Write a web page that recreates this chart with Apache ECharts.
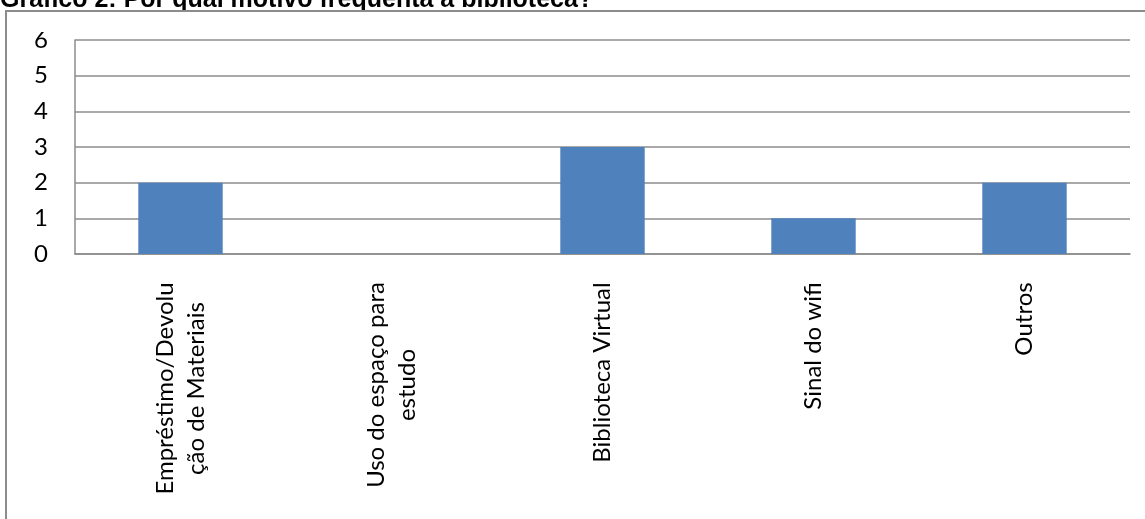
<!DOCTYPE html>
<html>
<head>
<meta charset="utf-8">
<script src="https://cdn.jsdelivr.net/npm/echarts@6/dist/echarts.min.js"></script>
<style>
html,body{margin:0;padding:0;background:#fff;}
#chart{width:1145px;height:519px;}
</style>
</head>
<body>
<div id="chart"></div>
<script>
const titleText = "Gráfico 2: Por qual motivo frequenta a biblioteca?";
const categories = ["Empréstimo/Devolu\nção de Materiais", "Uso do espaço para\nestudo", "Biblioteca Virtual", "Sinal do wifi", "Outros"];
const values = [2, 0, 3, 1, 2];
const yTicks = [0, 1, 2, 3, 4, 5, 6];

const LABEL_FONT = "Lato";
const LABEL_SIZE = 24;
const ctx = document.createElement("canvas").getContext("2d");
ctx.font = LABEL_SIZE + "px " + LABEL_FONT;
const rich = {};
categories.forEach((c, i) => {
  const w = Math.max(...c.split("\n").map(s => ctx.measureText(s).width));
  rich["c" + i] = {width: Math.ceil(w) + 2, align: "center", fontFamily: LABEL_FONT, fontSize: LABEL_SIZE, lineHeight: 31, color: "#000"};
});

const chart = echarts.init(document.getElementById("chart"), null, {renderer: "canvas"});
chart.setOption({
  animation: false,
  backgroundColor: "#fff",
  graphic: [
    {type: "text", x: 0, y: 0, z: 1, silent: true,
     style: {text: titleText, font: "bold 25px 'Liberation Sans', Arial", fill: "#000", verticalAlign: "middle"}},
    {type: "rect", z: 2, silent: true, shape: {x: 5, y: 10, width: 1400, height: 22},
     style: {fill: "#fff", stroke: null}},
    {type: "rect", z: 3, silent: true, shape: {x: 6, y: 11, width: 1400, height: 800},
     style: {fill: null, stroke: "#8c8c8c", lineWidth: 2}}
  ],
  grid: {left: 75, right: 15, top: 40, bottom: 265, containLabel: false},
  xAxis: {
    type: "category",
    data: categories,
    axisLine: {show: true, lineStyle: {color: "#8c8c8c", width: 1.5}},
    axisTick: {show: false},
    axisLabel: {
      interval: 0, rotate: 90, margin: 27,
      formatter: (v, i) => v.split("\n").map(s => "{c" + i + "|" + s + "}").join("\n"),
      rich: rich
    }
  },
  yAxis: {
    type: "value", min: yTicks[0], max: yTicks[yTicks.length - 1], interval: 1,
    axisLine: {show: true, lineStyle: {color: "#8c8c8c", width: 1.5}},
    axisTick: {show: false},
    axisLabel: {margin: 27, fontFamily: LABEL_FONT, fontSize: LABEL_SIZE, color: "#000"},
    splitLine: {show: true, lineStyle: {color: "#8c8c8c", width: 1.5}}
  },
  series: [{
    type: "bar",
    data: values,
    barWidth: "40%",
    itemStyle: {color: "#4F81BD"}
  }]
});
</script>
</body>
</html>
